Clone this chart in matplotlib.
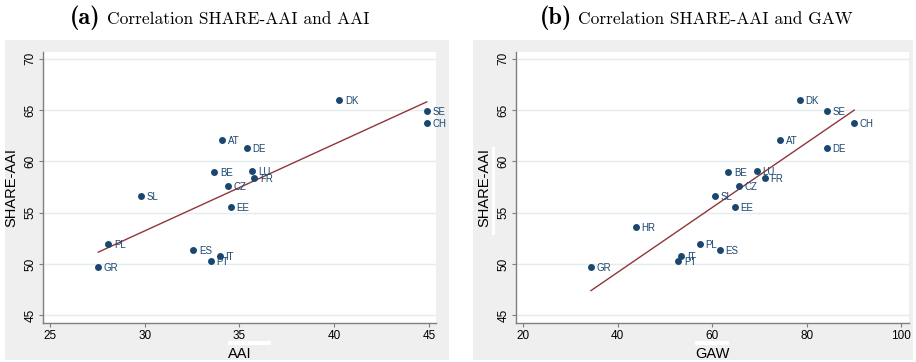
import numpy as np
import matplotlib
matplotlib.use("Agg")
import matplotlib.pyplot as plt
from matplotlib.patches import Rectangle

# Daten
countries = ["DK", "SE", "CH", "AT", "DE", "BE", "LU", "FR", "CZ", "SL",
             "EE", "HR", "PL", "ES", "IT", "PT", "GR"]
share_aai = [65.97, 64.87, 63.70, 62.05, 61.33, 59.00, 59.09, 58.34, 57.60, 56.62,
             55.58, 53.64, 51.92, 51.36, 50.81, 50.29, 49.74]
aai = [40.27, 44.88, 44.88, 34.08, 35.38, 33.67, 35.68, 35.78, 34.38, 29.78,
       34.55, np.nan, 28.08, 32.56, 33.97, 33.48, 27.55]
gaw = [78.48, 84.34, 90.05, 74.32, 84.27, 63.39, 69.45, 71.15, 65.57, 60.49,
       64.80, 43.84, 57.32, 61.62, 53.44, 52.80, 34.32]

x_ticks_a = [25, 30, 35, 40, 45]
x_ticks_b = [20, 40, 60, 80, 100]
y_ticks = [45, 50, 55, 60, 65, 70]

NAVY = "#1a476f"
MAROON = "#90353b"
GRID = "#e4eced"
BG = "#efefef"
SPINE = "#7f7f7f"

W, H = 916, 362
fig = plt.figure(figsize=(W / 100, H / 100), dpi=100)
fig.patch.set_facecolor("white")


def px(x0, y0, x1, y1):
    # Pixel -> Figurkoordinaten (left, bottom, width, height)
    return [x0 / W, 1 - y1 / H, (x1 - x0) / W, (y1 - y0) / H]


# graue Hintergrundflaechen
for box in [(5, 40, 449, 360), (473, 40, 913, 360)]:
    l, b, w, h = px(*box)
    fig.patches.append(Rectangle((l, b), w, h, transform=fig.transFigure,
                                 facecolor=BG, edgecolor="none", zorder=-2))


def panel(rect, xvals, xlim, xticks, xlabel):
    ax = fig.add_axes(px(*rect))
    ax.set_facecolor("white")
    x = np.array(xvals, dtype=float)
    y = np.array(share_aai, dtype=float)
    ok = ~np.isnan(x)
    ax.scatter(x[ok], y[ok], s=25, color=NAVY, zorder=3, linewidths=0)
    for xi, yi, c in zip(x[ok], y[ok], np.array(countries)[ok]):
        ax.annotate(c, (xi, yi), xytext=(4, -0.8), textcoords="offset points",
                    va="center", ha="left", fontsize=7, color=NAVY,
                    family="Liberation Sans", zorder=4)
    # lineare Regression
    k, d = np.polyfit(x[ok], y[ok], 1)
    xs = np.array([x[ok].min(), x[ok].max()])
    ax.plot(xs, k * xs + d, color=MAROON, lw=1.0, zorder=2)

    ax.set_xlim(*xlim)
    ax.set_ylim(44.28, 70.68)
    ax.set_xticks(xticks)
    ax.set_yticks(y_ticks)
    ax.yaxis.grid(True, color=GRID, lw=1.0)
    ax.set_axisbelow(True)
    for s in ["top", "right"]:
        ax.spines[s].set_visible(False)
    for s in ["left", "bottom"]:
        ax.spines[s].set_color(SPINE)
        ax.spines[s].set_linewidth(1.0)
    ax.tick_params(length=3, width=0.8, color=SPINE, labelsize=8.5, pad=2)
    for lab in ax.get_xticklabels() + ax.get_yticklabels():
        lab.set_family("Liberation Sans")
    plt.setp(ax.get_yticklabels(), rotation=90, va="center")
    ax.set_xlabel(xlabel, fontsize=10.5, family="Liberation Sans", labelpad=4)
    ax.set_ylabel("SHARE-AAI", fontsize=10.5, family="Liberation Sans", labelpad=4)
    return ax


ax1 = panel((43.3, 51.7, 436, 322.7), aai, (24.65, 45.37), x_ticks_a, "AAI")
ax2 = panel((516.3, 51.7, 908.7, 322.7), gaw, (18.52, 101.57), x_ticks_b, "GAW")

# Titel
fig.text(101 / W, 1 - 24 / H, "(a)", family="cmb10", fontsize=17.5,
         ha="right", va="baseline")
fig.text(107 / W, 1 - 24 / H, "Correlation SHARE-AAI and AAI", family="cmr10",
         fontsize=12.5, ha="left", va="baseline")
fig.text(572 / W, 1 - 24 / H, "(b)", family="cmb10", fontsize=17.5,
         ha="right", va="baseline")
fig.text(578 / W, 1 - 24 / H, "Correlation SHARE-AAI and GAW", family="cmr10",
         fontsize=12.5, ha="left", va="baseline")

# weisse Balken wie im Original
for box in [(227.7, 340.7, 271, 345), (695.3, 340.7, 728.7, 345), (492.3, 146.7, 495.3, 235)]:
    l, b, w, h = px(*box)
    fig.patches.append(Rectangle((l, b), w, h, transform=fig.transFigure,
                                 facecolor="white", edgecolor="none", zorder=-1))

fig.savefig("out.png", dpi=100)
